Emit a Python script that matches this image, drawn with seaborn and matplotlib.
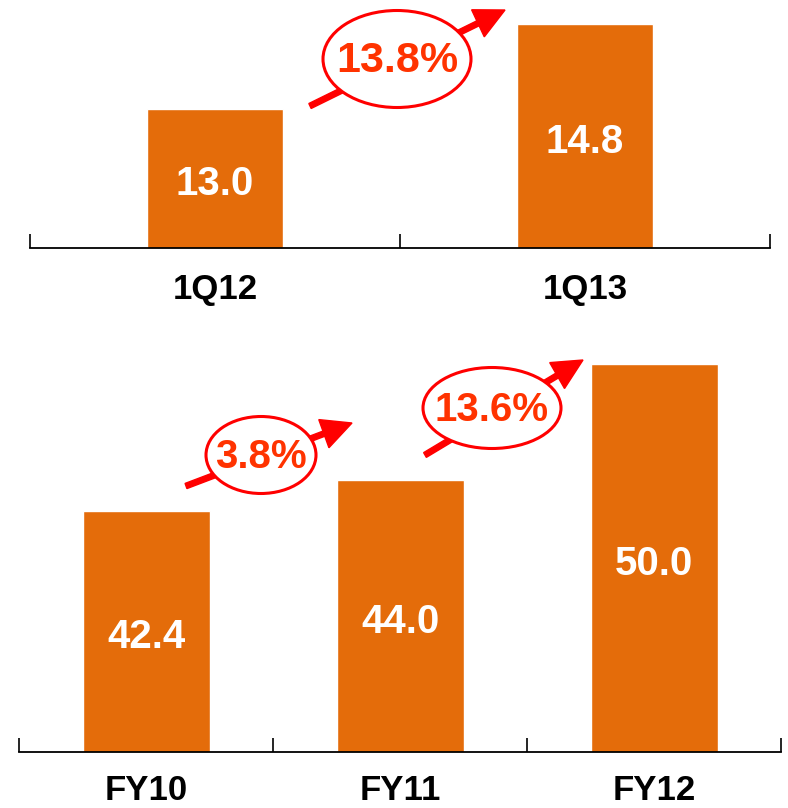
import matplotlib
matplotlib.use("Agg")
import matplotlib.pyplot as plt
from matplotlib.patches import Ellipse, FancyArrow
import seaborn as sns
import pandas as pd

# data
quarters = ["1Q12", "1Q13"]
quarter_vals = [13.0, 14.8]
quarter_growth = ["13.8%"]

years = ["FY10", "FY11", "FY12"]
year_vals = [42.4, 44.0, 50.0]
year_growth = ["3.8%", "13.6%"]

BAR = "#E46C0A"
RED = "#FF0000"
PCT = "#FF3300"

sns.set_theme(style="white")
plt.rcParams["font.family"] = ["Liberation Sans", "DejaVu Sans"]

W, H = 788, 808
fig = plt.figure(figsize=(W / 100, H / 100), dpi=100)


def px_axes(x0, x1, y_top, y_bot):
    # pixel box (from top-left) -> figure axes
    return fig.add_axes([x0 / W, 1 - y_bot / H, (x1 - x0) / W, (y_bot - y_top) / H])


def style_axis(ax, n, ylim, pad):
    ax.set_ylim(*ylim)
    ax.set_xlim(-0.5, n - 0.5)
    for s in ["top", "right", "left"]:
        ax.spines[s].set_visible(False)
    ax.spines["bottom"].set_color("black")
    ax.spines["bottom"].set_linewidth(1.3)
    ax.set_yticks([])
    ax.set_xlabel("")
    ax.set_ylabel("")
    ax.set_xticks([i - 0.5 for i in range(n + 1)], minor=True)
    ax.tick_params(axis="x", which="minor", direction="in", length=10, width=1.2, color="black", bottom=True)
    ax.tick_params(axis="x", which="major", length=0, pad=pad, labelsize=25)
    for lab in ax.get_xticklabels():
        lab.set_fontweight("bold")
        lab.set_color("black")
    ax.patch.set_alpha(0)


def value_labels(ax, vals, ylo):
    for i, v in enumerate(vals):
        ax.annotate(f"{v:.1f}", (i, (ylo + v) / 2), xytext=(0, -4), textcoords="offset points",
                    ha="center", va="center", color="white", fontsize=29, fontweight="bold")


def growth_badge(cx, cy, ew, eh, x0, y0, x1, y1, text, size):
    # pixel coords from top-left
    tr = fig.transFigure
    fx = lambda x: x / W
    fy = lambda y: 1 - y / H
    arr = FancyArrow(fx(x0), fy(y0), fx(x1) - fx(x0), fy(y1) - fy(y0),
                     width=5.5 / H, head_width=30 / H, head_length=30 / W,
                     length_includes_head=True, color=RED, transform=tr, zorder=5)
    fig.patches.append(arr)
    ell = Ellipse((fx(cx), fy(cy)), ew / W, eh / H, transform=tr,
                  facecolor="white", edgecolor=RED, lw=2.2, zorder=6)
    fig.patches.append(ell)
    fig.text(fx(cx), fy(cy + 2), text, ha="center", va="center", color=PCT,
             fontsize=size, fontweight="bold", zorder=7)


# top panel
ax1 = px_axes(30, 770, 0, 248)
df_q = pd.DataFrame({"period": quarters, "value": quarter_vals})
sns.barplot(data=df_q, x="period", y="value", color=BAR, saturation=1, width=0.37, ax=ax1)
top_lim = (10.06, 10.06 + 248 / 47.2)
style_axis(ax1, len(quarters), top_lim, 18)
value_labels(ax1, quarter_vals, top_lim[0])

# bottom panel
ax2 = px_axes(19, 781, 330, 752)
df_y = pd.DataFrame({"period": years, "value": year_vals})
sns.barplot(data=df_y, x="period", y="value", color=BAR, saturation=1, width=0.5, ax=ax2)
bot_lim = (30.0, 30.0 + 422 / 19.4)
style_axis(ax2, len(years), bot_lim, 16)
value_labels(ax2, year_vals, bot_lim[0])

# growth annotations
growth_badge(397, 59, 148, 97, 310, 106, 505, 10, quarter_growth[0], 31)
growth_badge(261, 455, 110, 77, 186, 486, 352, 423, year_growth[0], 29)
growth_badge(492, 408, 138, 81, 425, 455, 583, 360, year_growth[1], 29)

fig.savefig("out.png", dpi=100)
